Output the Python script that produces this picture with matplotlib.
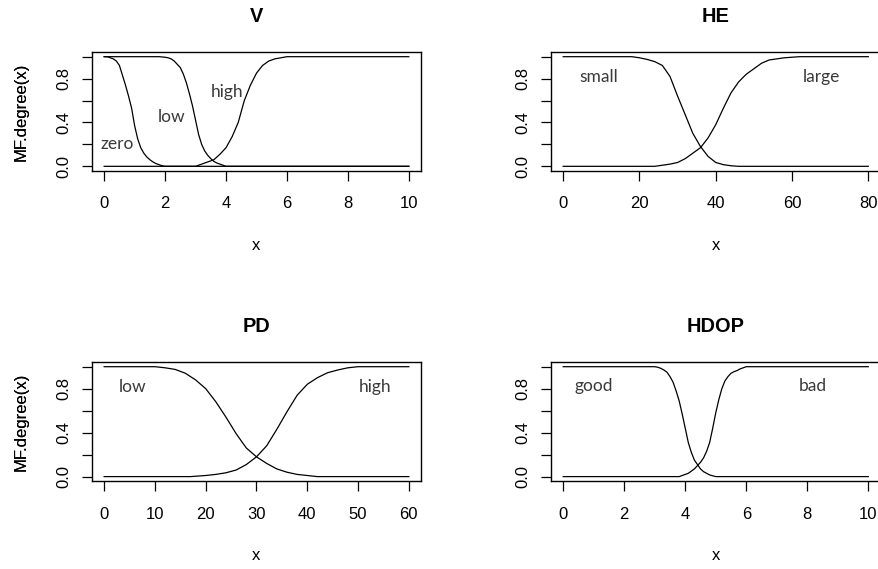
import matplotlib
matplotlib.use("Agg")
import matplotlib.pyplot as plt

# ---------------- data ----------------
# V
v_zero_x = [0, 0.1, 0.2, 0.3, 0.4, 0.5, 0.6, 0.7, 0.8, 0.9, 1.0, 1.1, 1.2, 1.3, 1.4,
            1.5, 1.6, 1.7, 1.8, 1.9, 2.0, 10]
v_zero_y = [1.0, 1.0, 0.99, 0.98, 0.96, 0.92, 0.83, 0.74, 0.64, 0.53, 0.37, 0.25, 0.17,
            0.12, 0.085, 0.06, 0.04, 0.025, 0.015, 0.005, 0.0, 0.0]
v_low_x = [0, 1.8, 2.0, 2.1, 2.2, 2.3, 2.4, 2.5, 2.6, 2.7, 2.8, 2.9, 3.0, 3.1, 3.2,
           3.3, 3.4, 3.5, 3.6, 3.7, 3.8, 3.9, 4.0, 10]
v_low_y = [1.0, 1.0, 0.995, 0.99, 0.98, 0.96, 0.93, 0.90, 0.84, 0.76, 0.66, 0.55, 0.42,
           0.29, 0.20, 0.14, 0.10, 0.07, 0.045, 0.03, 0.02, 0.01, 0.0, 0.0]
v_high_x = [0, 3.0, 3.2, 3.4, 3.6, 3.8, 4.0, 4.2, 4.4, 4.6, 4.8, 5.0, 5.2, 5.4, 5.6,
            5.8, 6.0, 10]
v_high_y = [0.0, 0.0, 0.02, 0.04, 0.06, 0.11, 0.17, 0.27, 0.40, 0.60, 0.74, 0.85, 0.92,
            0.96, 0.98, 0.99, 1.0, 1.0]

# HE
he_small_x = [0, 18, 20, 22, 24, 26, 28, 30, 32, 34, 36, 38, 40, 42, 44, 46, 80]
he_small_y = [1.0, 1.0, 0.99, 0.975, 0.955, 0.92, 0.82, 0.64, 0.47, 0.30, 0.18, 0.09,
              0.035, 0.015, 0.005, 0.0, 0.0]
he_large_x = [0, 24, 26, 28, 30, 32, 34, 36, 38, 40, 42, 44, 46, 48, 50, 52, 54, 56,
              58, 60, 62, 80]
he_large_y = [0.0, 0.0, 0.01, 0.02, 0.035, 0.07, 0.12, 0.17, 0.26, 0.38, 0.53, 0.67,
              0.77, 0.84, 0.89, 0.94, 0.97, 0.98, 0.99, 0.995, 1.0, 1.0]

# PD
pd_low_x = [0, 10, 12, 14, 16, 18, 20, 22, 24, 26, 28, 30, 32, 34, 36, 38, 40, 42, 60]
pd_low_y = [1.0, 1.0, 0.99, 0.975, 0.94, 0.88, 0.80, 0.68, 0.54, 0.39, 0.26, 0.18,
            0.12, 0.07, 0.04, 0.02, 0.01, 0.0, 0.0]
pd_high_x = [0, 17, 20, 22, 24, 26, 28, 30, 32, 34, 36, 38, 40, 42, 44, 46, 48, 50, 60]
pd_high_y = [0.0, 0.0, 0.01, 0.02, 0.035, 0.06, 0.11, 0.18, 0.28, 0.43, 0.59, 0.74,
             0.84, 0.90, 0.945, 0.97, 0.99, 1.0, 1.0]

# HDOP
hdop_good_x = [0, 3.0, 3.1, 3.2, 3.3, 3.4, 3.5, 3.6, 3.7, 3.8, 3.9, 4.0, 4.1, 4.2,
               4.3, 4.4, 4.5, 4.6, 4.7, 4.8, 5.0, 10]
hdop_good_y = [1.0, 1.0, 0.995, 0.985, 0.97, 0.95, 0.91, 0.86, 0.78, 0.69, 0.57, 0.44,
               0.31, 0.22, 0.15, 0.11, 0.07, 0.045, 0.03, 0.015, 0.0, 0.0]
hdop_bad_x = [0, 3.8, 4.0, 4.1, 4.2, 4.3, 4.4, 4.5, 4.6, 4.7, 4.8, 4.9, 5.0, 5.1, 5.2,
              5.3, 5.4, 5.5, 5.6, 5.7, 5.8, 6.0, 10]
hdop_bad_y = [0.0, 0.0, 0.02, 0.03, 0.05, 0.07, 0.10, 0.13, 0.17, 0.23, 0.31, 0.44,
              0.58, 0.70, 0.80, 0.87, 0.91, 0.94, 0.955, 0.965, 0.98, 1.0, 1.0]

titles = ["V", "HE", "PD", "HDOP"]
x_maxes = [10, 80, 60, 10]
x_ticks = [[0, 2, 4, 6, 8, 10], [0, 20, 40, 60, 80],
           [0, 10, 20, 30, 40, 50, 60], [0, 2, 4, 6, 8, 10]]
y_ticks = [0, 0.2, 0.4, 0.6, 0.8, 1.0]
y_tick_labels = ["0.0", "", "0.4", "", "0.8", ""]

curves = [
    [(v_zero_x, v_zero_y), (v_low_x, v_low_y), (v_high_x, v_high_y)],
    [(he_small_x, he_small_y), (he_large_x, he_large_y)],
    [(pd_low_x, pd_low_y), (pd_high_x, pd_high_y)],
    [(hdop_good_x, hdop_good_y), (hdop_bad_x, hdop_bad_y)],
]
labels = [
    [("zero", 0.42, 0.155), ("low", 2.2, 0.40), ("high", 4.05, 0.63)],
    [("small", 9.4, 0.77), ("large", 67.6, 0.77)],
    [("low", 5.56, 0.767), ("high", 53.3, 0.77)],
    [("good", 1.01, 0.776), ("bad", 8.17, 0.78)],
]

# ---------------- layout ----------------
W, H = 879, 569
fig = plt.figure(figsize=(W / 100, H / 100), dpi=100)

boxes = [  # left, top, right, bottom in pixels
    (92, 52.3, 421, 170.7),
    (551, 52.3, 880.5, 170.7),
    (92, 362.3, 421, 481),
    (551, 362.3, 880.5, 481),
]

axis_font = "Liberation Sans"
label_font = ["Lato", "DejaVu Sans"]

for i, (l, t, r, b) in enumerate(boxes):
    ax = fig.add_axes([l / W, 1 - b / H, (r - l) / W, (b - t) / H])
    xm = x_maxes[i]
    for cx, cy in curves[i]:
        ax.plot(cx, cy, color="black", lw=0.9, solid_joinstyle="round")
    ax.set_xlim(-0.04 * xm, 1.04 * xm)
    ax.set_ylim(-0.04, 1.04)
    ax.set_xticks(x_ticks[i])
    ax.set_xticklabels([str(v) for v in x_ticks[i]], fontfamily=axis_font, fontsize=12)
    ax.set_yticks(y_ticks)
    ax.set_yticklabels(y_tick_labels, fontfamily=axis_font, fontsize=12,
                       rotation=90, va="center")
    ax.tick_params(axis="both", direction="out", length=7.5, width=0.9, color="black")
    ax.tick_params(axis="x", pad=11)
    ax.tick_params(axis="y", pad=7.5)
    for sp in ax.spines.values():
        sp.set_linewidth(1.0)
    ax.set_title(titles[i], fontfamily=axis_font, fontweight="bold", fontsize=14.4, pad=22)
    ax.set_xlabel("x", fontfamily=axis_font, fontsize=12)
    ax.xaxis.set_label_coords(0.5, -79.3 / (b - t))
    ax.xaxis.label.set_va("baseline")
    ax.set_ylabel("MF.degree(x)", fontfamily=axis_font, fontsize=12)
    ax.yaxis.set_label_coords((21 - l) / (r - l), 0.5)
    ax.yaxis.label.set_va("center")
    for txt, tx, ty in labels[i]:
        ax.text(tx, ty, txt, family=label_font, fontsize=12.5, color="#3a3a3a",
                ha="center", va="baseline")

fig.savefig("out.png", dpi=100)
